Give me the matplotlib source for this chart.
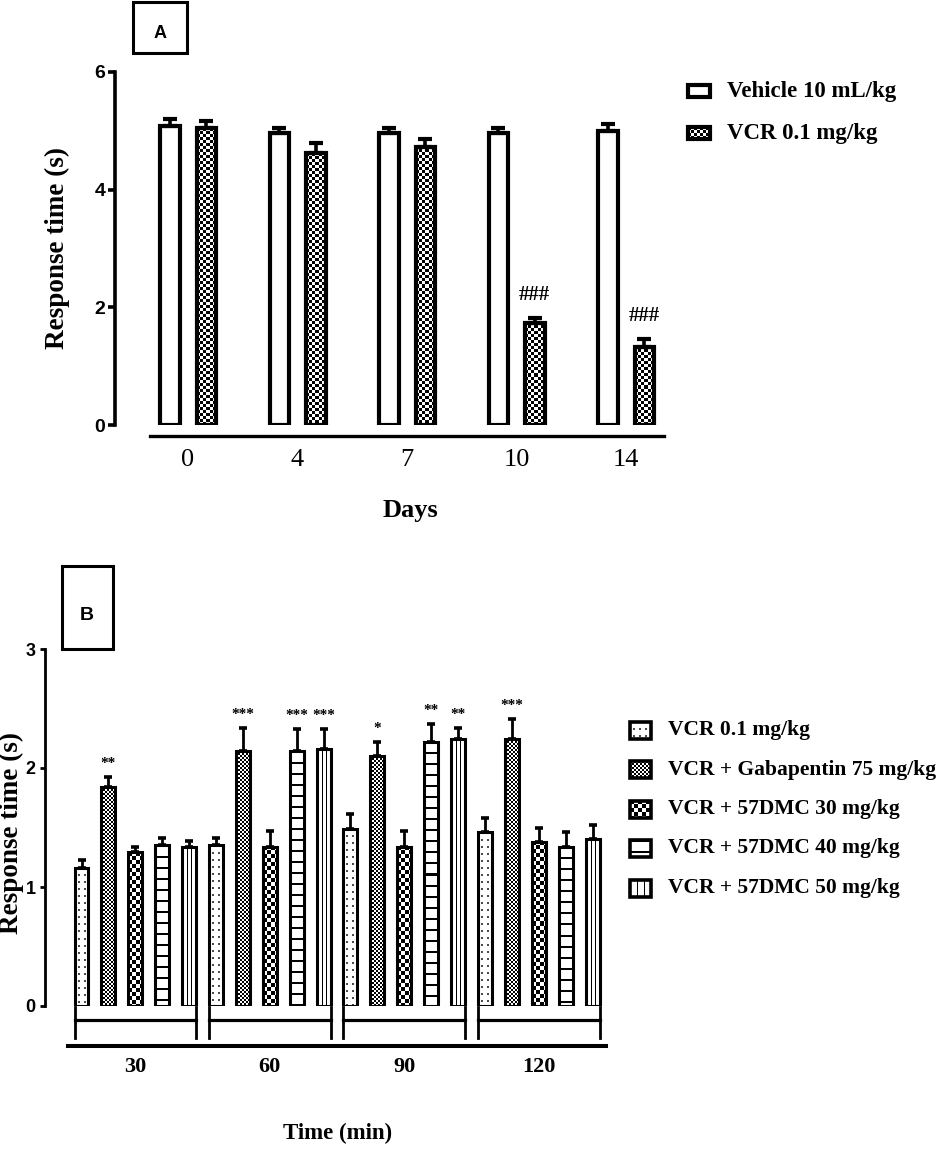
import numpy as np
import matplotlib
matplotlib.use("Agg")
import matplotlib.pyplot as plt
from matplotlib.patches import Rectangle

# ---- panel A: response time over days ----
days = ["0", "4", "7", "10", "14"]
vehicle_mean = [5.08, 4.97, 4.97, 4.97, 5.00]
vehicle_sem = [0.12, 0.08, 0.08, 0.08, 0.11]
vcr_mean = [5.04, 4.62, 4.73, 1.74, 1.33]
vcr_sem = [0.13, 0.18, 0.13, 0.08, 0.14]
vcr_marks = ["", "", "", "###", "###"]
legend_a = ["Vehicle 10 mL/kg", "VCR 0.1 mg/kg"]

# ---- panel B: response time over minutes after treatment ----
times = ["30", "60", "90", "120"]
legend_b = ["VCR 0.1 mg/kg", "VCR + Gabapentin 75 mg/kg", "VCR + 57DMC 30 mg/kg",
            "VCR + 57DMC 40 mg/kg", "VCR + 57DMC 50 mg/kg"]
vcr_b = [1.16, 1.35, 1.49, 1.46]
vcr_b_sem = [0.07, 0.06, 0.125, 0.12]
gaba_b = [1.84, 2.14, 2.10, 2.24]
gaba_b_sem = [0.085, 0.20, 0.12, 0.17]
dmc30_b = [1.29, 1.34, 1.34, 1.38]
dmc30_b_sem = [0.05, 0.13, 0.13, 0.12]
dmc40_b = [1.35, 2.14, 2.22, 1.34]
dmc40_b_sem = [0.06, 0.19, 0.15, 0.12]
dmc50_b = [1.34, 2.16, 2.24, 1.40]
dmc50_b_sem = [0.05, 0.17, 0.10, 0.12]
vcr_b_stars = ["", "", "", ""]
gaba_b_stars = ["**", "***", "*", "***"]
dmc30_b_stars = ["", "", "", ""]
dmc40_b_stars = ["", "***", "**", ""]
dmc50_b_stars = ["", "***", "**", ""]

W, H = 941, 1154
plt.rcParams["font.family"] = ["Liberation Serif", "DejaVu Serif"]
fig = plt.figure(figsize=(W / 100, H / 100), dpi=100)


def px_box(l, t, r, b):
    return [l / W, 1 - b / H, (r - l) / W, (b - t) / H]


def pattern(kind, w, h):
    w = max(int(round(w)), 1)
    h = max(int(round(h)), 1)
    yy, xx = np.mgrid[0:h, 0:w]
    arr = np.ones((h, w))
    if kind == "check3":
        arr = ((xx // 3 + yy // 3) % 2).astype(float)
    elif kind == "check2":
        arr = ((xx // 2 + yy // 2) % 2).astype(float)
    elif kind == "check4":
        arr = ((xx // 4 + yy // 4) % 2).astype(float)
    elif kind == "dots":
        arr[(yy % 7 < 2) & (xx % 6 >= 3) & (xx % 6 < 5)] = 0.3
    elif kind == "hlines":
        arr[(yy % 11) < 2] = 0.0
    elif kind == "vlines":
        arr[:, int(round(w / 3))] = 0.0
        arr[:, int(round(2 * w / 3))] = 0.0
    return arr


def fill_pattern(ax, patch, kind, x0, x1, y0, y1, wpx, hpx, zorder=2):
    if kind is None:
        return
    im = ax.imshow(pattern(kind, wpx, hpx), extent=(x0, x1, y0, y1), cmap="gray",
                   vmin=0, vmax=1, interpolation="nearest", aspect="auto", zorder=zorder)
    im.set_clip_path(patch)


def pattern_bars(ax, xs, means, sems, width, kind, lw, err_kw):
    bars = ax.bar(xs, means, width, facecolor="none", edgecolor="black",
                  linewidth=lw, zorder=3)
    ax.errorbar(xs, means, yerr=[np.zeros(len(means)), sems], fmt="none",
                ecolor="black", zorder=2.5, **err_kw)
    for bar in bars:
        x0, y0 = bar.get_x(), bar.get_y()
        x1, y1 = x0 + bar.get_width(), y0 + bar.get_height()
        p0 = ax.transData.transform((x0, y0))
        p1 = ax.transData.transform((x1, y1))
        fill_pattern(ax, bar, kind, x0, x1, y0, y1, p1[0] - p0[0], p1[1] - p0[1])
    return bars


def style_axes(ax, ticks, size, lw, tick_len, pad, bottom_out, bounds, bottom_lw):
    # spine position first: moving a spine resets the tick labels
    ax.spines["bottom"].set_position(("outward", bottom_out))
    ax.spines["bottom"].set_bounds(*bounds)
    ax.spines["bottom"].set_linewidth(bottom_lw)
    for s in ("top", "right"):
        ax.spines[s].set_visible(False)
    ax.spines["left"].set_linewidth(lw)
    ax.spines["left"].set_bounds(ticks[0], ticks[-1])
    ax.set_yticks(ticks)
    ax.tick_params(axis="y", length=tick_len, width=lw, pad=pad, labelsize=size)
    for lbl in ax.get_yticklabels():
        lbl.set_fontfamily("Liberation Sans")
        lbl.set_fontweight("bold")
    ax.patch.set_visible(False)


def style_xlabels(ax, ticks, labels, size, bold, pad):
    ax.set_xticks(ticks)
    ax.set_xticklabels(labels, fontsize=size, fontweight="bold" if bold else "normal")
    ax.tick_params(axis="x", length=0, pad=pad, labelsize=size)


# ---------------- panel A ----------------
axA = fig.add_axes(px_box(115, 72, 680, 425))
xlimA, ylimA = (-0.667, 4.493), (0, 6)
axA.set_xlim(*xlimA)
axA.set_ylim(*ylimA)
xa = np.arange(len(days))
errA = dict(elinewidth=2.6, capsize=5, capthick=3)
pattern_bars(axA, xa - 1 / 6, vehicle_mean, vehicle_sem, 0.178, None, 3, errA)
pattern_bars(axA, xa + 1 / 6, vcr_mean, vcr_sem, 0.178, "check3", 3, errA)
for x, m, s, t in zip(xa + 1 / 6, vcr_mean, vcr_sem, vcr_marks):
    if t:
        axA.annotate(t, (x, m + s), xytext=(0, 9), textcoords="offset points",
                     ha="center", va="bottom", fontsize=15, fontweight="bold")
style_axes(axA, [0, 2, 4, 6], 14, 2.6, 5, 2, 8, (-0.35, 4.35), 2.4)
style_xlabels(axA, xa, days, 19, False, 9)
axA.set_xlim(*xlimA)
axA.set_ylim(*ylimA)

# ---------------- panel B ----------------
axB = fig.add_axes(px_box(45, 649, 620, 1006))
xlimB, ylimB = (-1.357, 20.02), (0, 3)
axB.set_xlim(*xlimB)
axB.set_ylim(*ylimB)
n_groups = len(times)
series_b = [
    (vcr_b, vcr_b_sem, vcr_b_stars, "dots"),
    (gaba_b, gaba_b_sem, gaba_b_stars, "check2"),
    (dmc30_b, dmc30_b_sem, dmc30_b_stars, "check4"),
    (dmc40_b, dmc40_b_sem, dmc40_b_stars, "hlines"),
    (dmc50_b, dmc50_b_sem, dmc50_b_stars, "vlines"),
]
n_series = len(series_b)
wb = 0.52
errB = dict(elinewidth=2.0, capsize=3, capthick=2.6)
for j, (vals, sems, stars, kind) in enumerate(series_b):
    xs = np.arange(n_groups) * n_series + j
    pattern_bars(axB, xs, vals, sems, wb, kind, 2.2, errB)
    for x, m, s, t in zip(xs, vals, sems, stars):
        if t:
            axB.annotate(t, (x, m + s), xytext=(0, 5), textcoords="offset points",
                         ha="center", va="bottom", fontsize=11, fontweight="bold")
# group brackets under each time point
for g in range(n_groups):
    left = g * n_series - wb / 2
    right = g * n_series + n_series - 1 + wb / 2
    axB.plot([left, left], [-0.008, -0.269], color="black", lw=2.0, clip_on=False)
    axB.plot([right, right], [-0.008, -0.269], color="black", lw=2.0, clip_on=False)
    axB.plot([left, right], [-0.118, -0.118], color="black", lw=2.3, clip_on=False)
centers = np.arange(n_groups) * n_series + (n_series - 1) / 2
style_axes(axB, [0, 1, 2, 3], 13, 2.0, 3.6, 3, 29, (-0.5, 19.5), 2.9)
style_xlabels(axB, centers, times, 16, True, 8)
axB.set_xlim(*xlimB)
axB.set_ylim(*ylimB)

# ---------------- overlay: labels, panel boxes, legends ----------------
ov = fig.add_axes([0, 0, 1, 1])
ov.set_xlim(0, W)
ov.set_ylim(H, 0)
ov.axis("off")

ov.add_patch(Rectangle((133, 2), 54, 51, facecolor="none", edgecolor="black", lw=2.2))
ov.text(160, 33, "A", ha="center", va="center", fontsize=13, fontweight="bold",
        family="Liberation Sans")
ov.add_patch(Rectangle((62, 566), 51, 83, facecolor="none", edgecolor="black", lw=2.2))
ov.text(87, 616, "B", ha="center", va="center", fontsize=14, fontweight="bold",
        family="Liberation Sans")

ov.text(57, 248, "Response time (s)", rotation=90, ha="center", va="center",
        fontsize=19.5, fontweight="bold")
ov.text(410, 510, "Days", ha="center", va="center", fontsize=19, fontweight="bold")
ov.text(11, 833, "Response time (s)", rotation=90, ha="center", va="center",
        fontsize=19.5, fontweight="bold")
ov.text(338, 1133, "Time (min)", ha="center", va="center", fontsize=16.5,
        fontweight="bold")


def swatch(x0, yc, w, h, kind, lw):
    y0 = yc - h / 2
    rect = Rectangle((x0, y0), w, h, facecolor="none", edgecolor="black", lw=lw, zorder=3)
    ov.add_patch(rect)
    fill_pattern(ov, rect, kind, x0, x0 + w, y0 + h, y0, w, h)


for label, kind, yc in zip(legend_a, [None, "check3"], [91, 133]):
    swatch(688, yc, 22, 12, kind, 3)
    ov.text(727, yc, label, ha="left", va="center", fontsize=16.5, fontweight="bold")

for i, label in enumerate(legend_b):
    yc = 730 + 39.5 * i
    swatch(630, yc, 21, 17, series_b[i][3], 2.6)
    ov.text(668, yc, label, ha="left", va="center", fontsize=15.5, fontweight="bold")

ov.set_xlim(0, W)
ov.set_ylim(H, 0)

fig.savefig("out.png", dpi=100)
